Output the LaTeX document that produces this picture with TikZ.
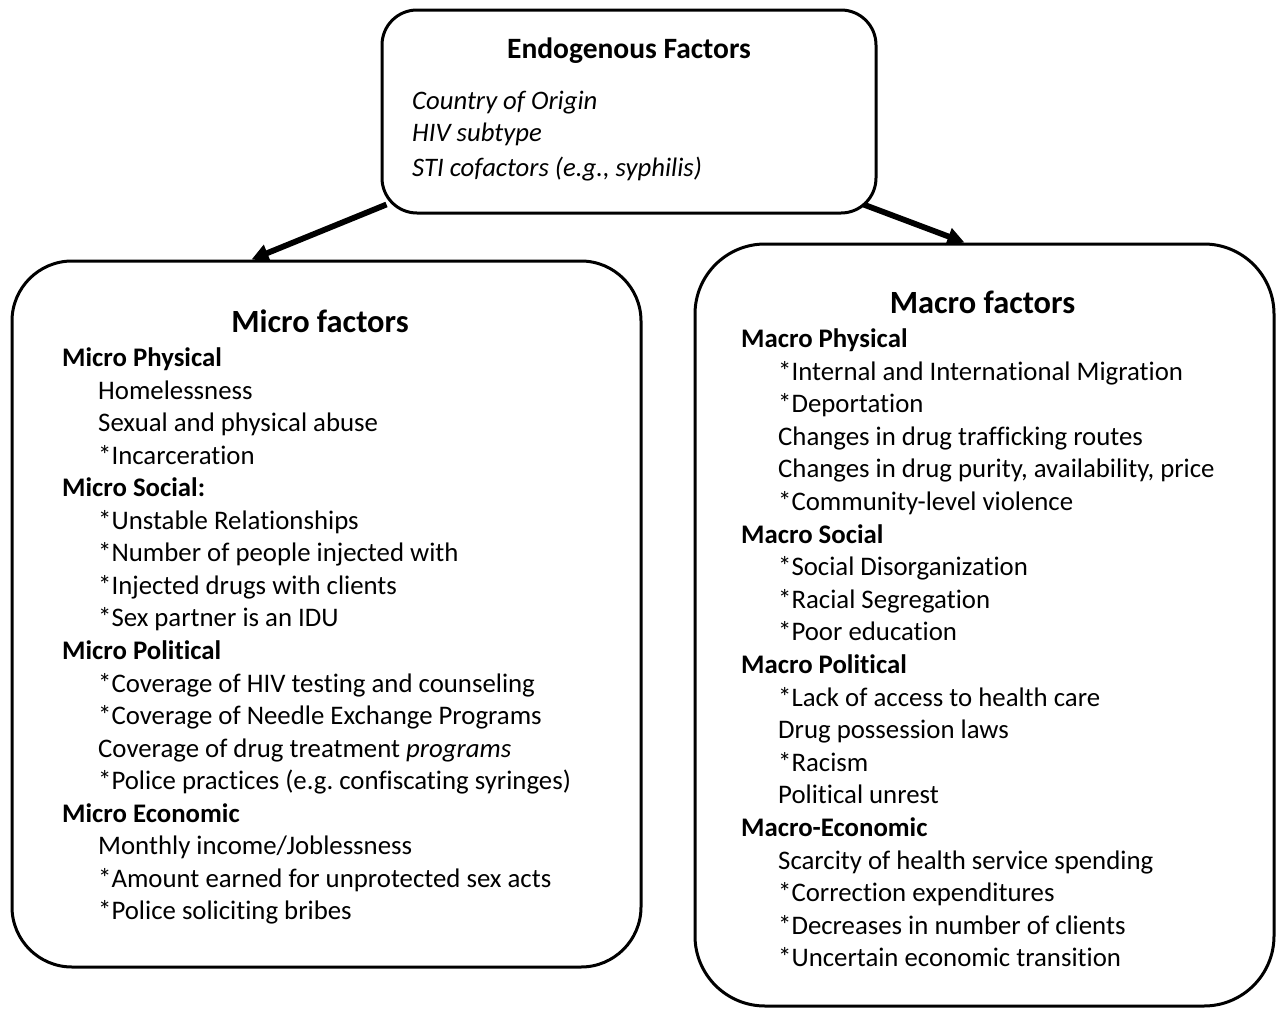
\documentclass[tikz,border=0pt]{standalone}
\usepackage{fontspec}
\setmainfont{Carlito}[Ligatures={NoCommon}]
\usetikzlibrary{arrows.meta,calc}
\frenchspacing
\begin{document}
\begin{tikzpicture}[x=1pt,y=-1pt,
  box/.style={draw,line width=3pt,rectangle,inner sep=0pt},
  txt/.style={anchor=base west,inner sep=0pt,font=\fontsize{26.8}{32}\selectfont},
  hd/.style={txt,font=\fontsize{26.8}{32}\selectfont\bfseries},
  ttl/.style={anchor=base,inner sep=0pt,font=\fontsize{32.4}{40}\selectfont\bfseries},
  it/.style={txt,font=\fontsize{26.7}{32}\selectfont\itshape},
  arr/.style={line width=5.8pt,-{Triangle[length=17pt,width=17pt]}}]
\useasboundingbox (0,0) rectangle (1280,1009);
% boxes
\node[box,minimum width=494pt,minimum height=203pt,rounded corners=35pt] (top) at (629,111.5) {};
\node[box,minimum width=629pt,minimum height=706pt,rounded corners=60pt] (micro) at (326.5,614) {};
\node[box,minimum width=579pt,minimum height=762pt,rounded corners=70pt] (macro) at (984.5,625) {};
% arrows
\draw[arr] ($(top.south west)+(6,-10)$) -- ($(micro.north west)+(241,0)$);
\draw[arr] ($(top.south east)+(-14,-10)$) -- ($(macro.north west)+(271,0)$);
% top texts
\node[anchor=base,inner sep=0pt,font=\fontsize{29.5}{34}\selectfont\bfseries] (endo) at (629,58) {Endogenous Factors};
\node[it] (e1) at (412,109.5) {Country of Origin};
\node[it] (e2) at (412,141.5) {HIV subtype};
\node[it] (e3) at (412,176.5) {STI cofactors (e.g., syphilis)};
% micro
\node[ttl] (mit) at (320,332.5) {Micro factors};
\node[hd] (m0) at (62,366.5) {Micro Physical};
\node[txt] (m1) at (98,399.1) {Homelessness};
\node[txt] (m2) at (98,431.6) {Sexual and physical abuse};
\node[txt] (m3) at (98,464.2) {*Incarceration};
\node[hd] (m4) at (62,496.7) {Micro Social:};
\node[txt] (m5) at (98,529.3) {*Unstable Relationships};
\node[txt] (m6) at (98,561.8) {*Number of people injected with};
\node[txt] (m7) at (98,594.4) {*Injected drugs with clients};
\node[txt] (m8) at (98,626.9) {*Sex partner is an IDU};
\node[hd] (m9) at (62,659.5) {Micro Political};
\node[txt] (m10) at (98,692) {*Coverage of HIV testing and counseling};
\node[txt] (m11) at (98,724.5) {*Coverage of Needle Exchange Programs};
\node[txt] (m12) at (98,757.1) {Coverage of drug treatment \textit{programs}};
\node[txt] (m13) at (98,789.7) {*Police practices (e.g. confiscating syringes)};
\node[hd] (m14) at (62,822.2) {Micro Economic};
\node[txt] (m15) at (98,854.8) {Monthly income/Joblessness};
\node[txt] (m16) at (98,887.3) {*Amount earned for unprotected sex acts};
\node[txt] (m17) at (98,919.9) {*Police soliciting bribes};
% macro
\node[ttl] (mat) at (982.5,313.5) {Macro factors};
\node[hd] (a0) at (741,347.5) {Macro Physical};
\node[txt] (a1) at (778,380.1) {*Internal and International Migration};
\node[txt] (a2) at (778,412.7) {*Deportation};
\node[txt] (a3) at (778,445.3) {Changes in drug trafficking routes};
\node[txt] (a4) at (778,477.9) {Changes in drug purity, availability, price};
\node[txt] (a5) at (778,510.5) {*Community-level violence};
\node[hd] (a6) at (741,543.1) {Macro Social};
\node[txt] (a7) at (778,575.7) {*Social Disorganization};
\node[txt] (a8) at (778,608.3) {*Racial Segregation};
\node[txt] (a9) at (778,640.9) {*Poor education};
\node[hd] (a10) at (741,673.5) {Macro Political};
\node[txt] (a11) at (778,706.1) {*Lack of access to health care};
\node[txt] (a12) at (778,738.7) {Drug possession laws};
\node[txt] (a13) at (778,771.3) {*Racism};
\node[txt] (a14) at (778,803.9) {Political unrest};
\node[hd] (a15) at (741,836.5) {Macro-Economic};
\node[txt] (a16) at (778,869.1) {Scarcity of health service spending};
\node[txt] (a17) at (778,901.7) {*Correction expenditures};
\node[txt] (a18) at (778,934.3) {*Decreases in number of clients};
\node[txt] (a19) at (778,966.9) {*Uncertain economic transition};
\end{tikzpicture}
\end{document}
